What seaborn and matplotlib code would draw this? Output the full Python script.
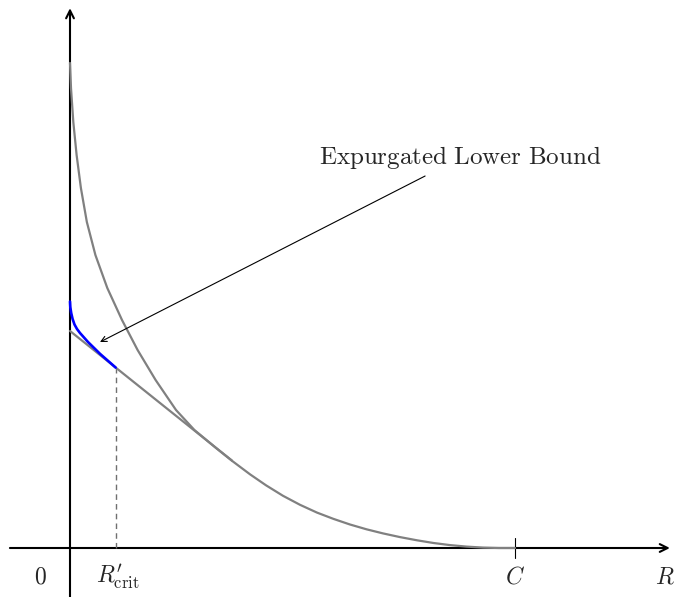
import matplotlib
matplotlib.use("Agg")
import matplotlib.pyplot as plt
import seaborn as sns
import pandas as pd

# Error exponent curve E(R), rate normalised by capacity C = 1
curve_R = [0.0, 0.00225, 0.00744, 0.01485, 0.02449, 0.03787, 0.05708,
           0.08382, 0.11685, 0.15191, 0.19236, 0.23820, 0.27955, 0.32809,
           0.36404, 0.40449, 0.44045, 0.47865, 0.51685, 0.55506, 0.59213,
           0.62921, 0.66629, 0.70337, 0.74157, 0.77978, 0.81685, 0.85393,
           0.89101, 0.92809, 0.96404, 1.0]
curve_E = [1.0, 0.94845, 0.87835, 0.81031, 0.74227, 0.67216, 0.60412,
           0.53608, 0.47010, 0.40825, 0.34639, 0.28454, 0.24330, 0.20619,
           0.17979, 0.15196, 0.12928, 0.10763, 0.08907, 0.07299, 0.06000,
           0.04845, 0.03856, 0.03010, 0.02247, 0.01588, 0.01031, 0.00598,
           0.00289, 0.00082, 0.0, 0.0]

# Straight-line segment of the random coding bound
line_R = [0.0, 0.36404]
line_E = [0.44742, 0.18021]

# Expurgated lower bound (low-rate region)
expurg_R = [0.0, 0.00067, 0.0027, 0.00584, 0.01011, 0.01573, 0.02247,
            0.04045, 0.06742, 0.1027]
expurg_E = [0.50825, 0.49691, 0.48454, 0.47216, 0.46082, 0.45155, 0.44330,
            0.42474, 0.40041, 0.37196]

R_crit = 0.1027
E_crit = 0.37196
capacity = 1.0

tick_labels = {"origin": "$0$", "rcrit": r"$R^{\prime}_{\mathrm{crit}}$",
               "cap": "$C$", "axis": "$R$"}
annotation_text = r"$\mathrm{Expurgated\ Lower\ Bound}$"

sns.set_theme(style="white")
plt.rcParams["mathtext.fontset"] = "cm"
plt.rcParams["font.family"] = ["DejaVu Serif"]

fig = plt.figure(figsize=(6.75, 5.97), dpi=100)
ax = fig.add_axes([0, 0, 1, 1])
ax.set_axis_off()

# Coordinate axes with arrow heads
arrow_kw = dict(arrowstyle="->", color="black", lw=1.5, mutation_scale=14,
                shrinkA=0, shrinkB=0)
ax.annotate("", xy=(1.348, 0), xytext=(-0.135, 0), arrowprops=arrow_kw, zorder=1)
ax.annotate("", xy=(0, 1.113), xytext=(0, -0.101), arrowprops=arrow_kw, zorder=1)

# Tick at capacity
ax.plot([capacity, capacity], [-0.0206, 0.0206], color="black", lw=0.8, zorder=2)

# Dashed line at critical rate
ax.plot([R_crit, R_crit], [0, E_crit], color="#707070", lw=1.0,
        ls=(0, (4, 3)), zorder=2)

curve_df = pd.DataFrame({"R": curve_R, "E": curve_E})
line_df = pd.DataFrame({"R": line_R, "E": line_E})
expurg_df = pd.DataFrame({"R": expurg_R, "E": expurg_E})

sns.lineplot(data=curve_df, x="R", y="E", sort=False, estimator=None,
             color="#808080", lw=1.6, ax=ax, zorder=3)
sns.lineplot(data=line_df, x="R", y="E", sort=False, estimator=None,
             color="#808080", lw=1.6, ax=ax, zorder=3)
sns.lineplot(data=expurg_df, x="R", y="E", sort=False, estimator=None,
             color="#0000ff", lw=1.9, ax=ax, zorder=4)

ax.set_xlim(-70 / 445, 605 / 445)
ax.set_ylim(-49 / 485, 548 / 485)
ax.set_axis_off()

# Annotation arrow and label
ax.annotate("", xy=(0.0674, 0.4247), xytext=(0.798, 0.767),
            arrowprops=dict(arrowstyle="->", color="black", lw=0.8,
                            mutation_scale=10, shrinkA=0, shrinkB=0), zorder=5)
ax.text(0.876, 0.806, annotation_text, ha="center", va="center", fontsize=18)

# Axis labels
label_y = -0.0598
ax.text(-0.0674, label_y, tick_labels["origin"], ha="center", va="center", fontsize=17)
ax.text(R_crit + 0.004, label_y, tick_labels["rcrit"], ha="center", va="center", fontsize=17)
ax.text(capacity, label_y, tick_labels["cap"], ha="center", va="center", fontsize=17)
ax.text(595 / 445, label_y, tick_labels["axis"], ha="center", va="center", fontsize=17)

fig.savefig("out.png", dpi=100)
